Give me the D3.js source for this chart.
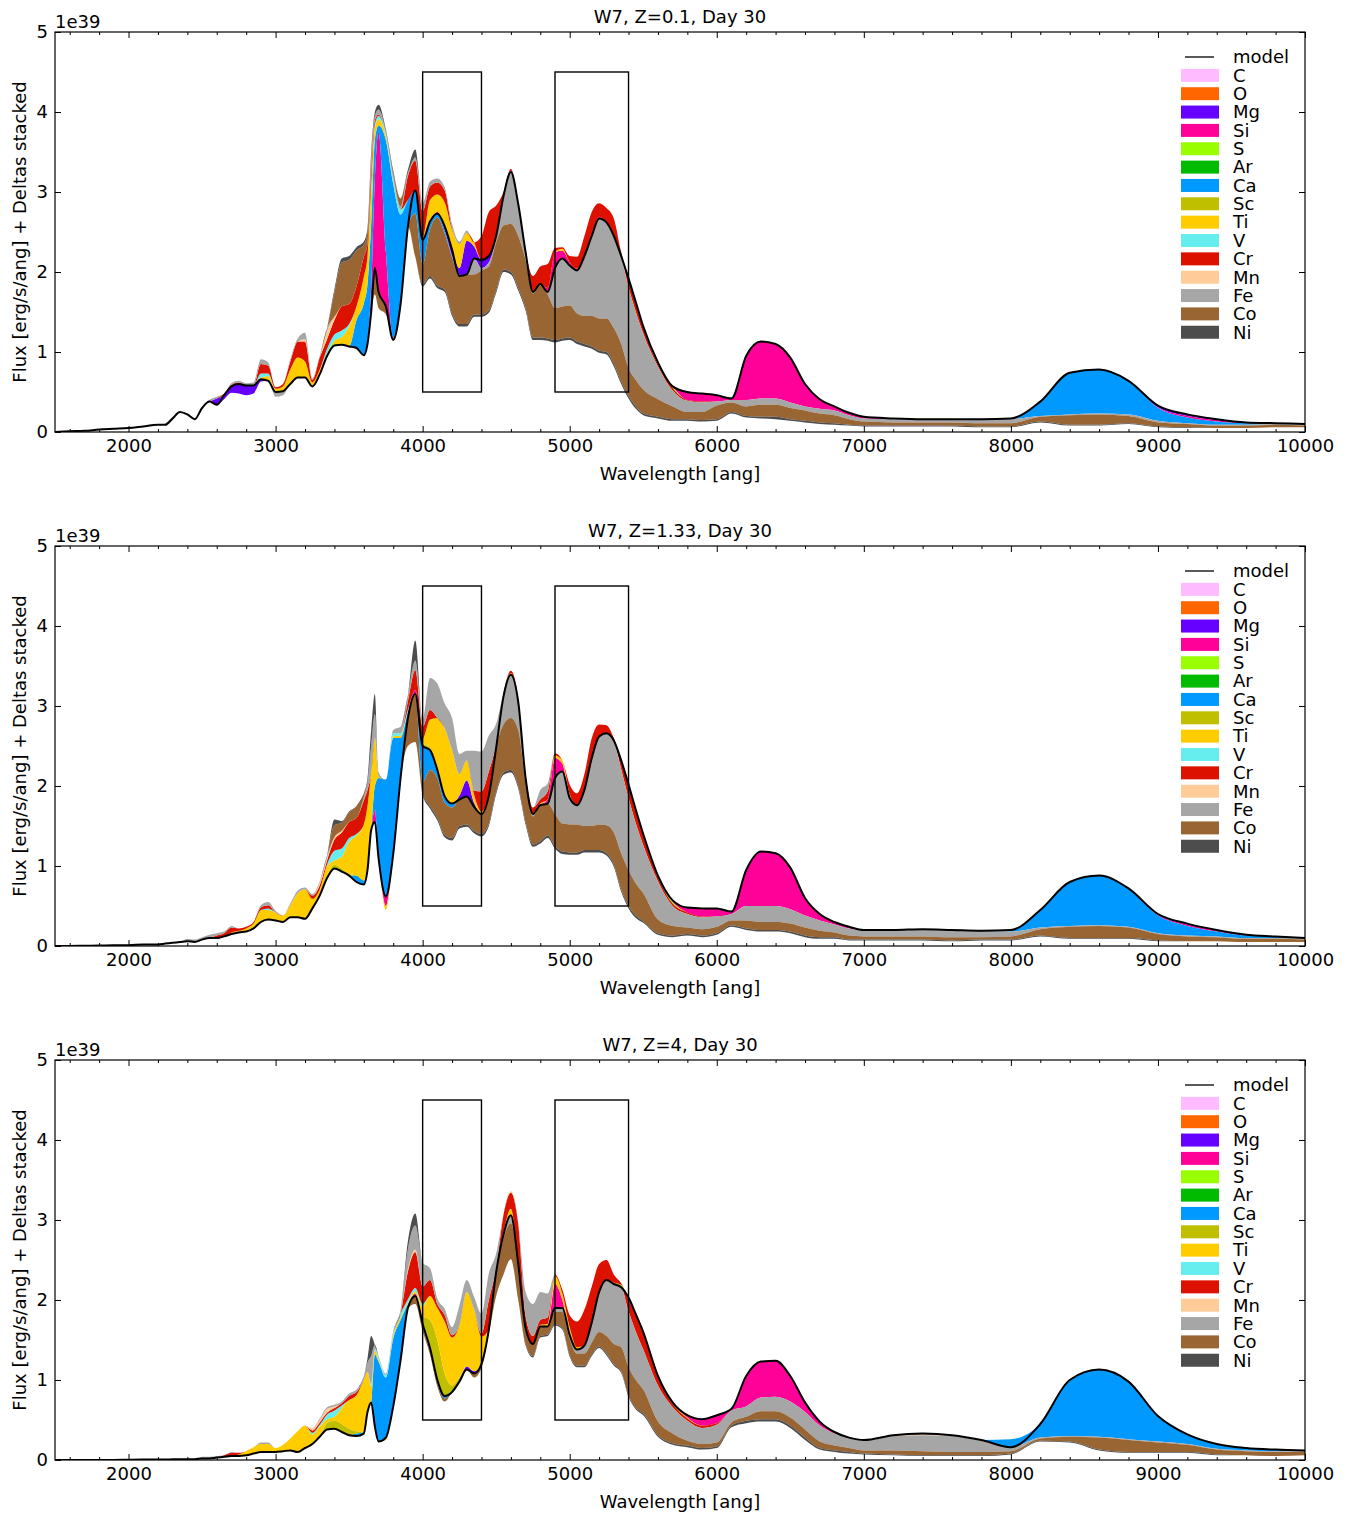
<!DOCTYPE html>
<html><head><meta charset="utf-8">
<script src="https://cdn.jsdelivr.net/npm/d3@7"></script>
<style>body{margin:0;background:#fff} svg{display:block} text{font-family:"DejaVu Sans",sans-serif;fill:#000}</style>
</head><body><svg id="chart" width="1354" height="1518"></svg>
<script>
// ---------- categories ----------
const elements = ["C","O","Mg","Si","S","Ar","Ca","Sc","Ti","V","Cr","Mn","Fe","Co","Ni"];
const elementColors = ["#ffbbff","#ff6600","#6600ff","#ff0099","#99ff00","#00bb00","#0099ff","#bfbf00","#ffcc00","#66eeee","#dd1100","#ffcc99","#a6a6a6","#996633","#4d4d4d"];
const titles = ["W7, Z=0.1, Day 30","W7, Z=1.33, Day 30","W7, Z=4, Day 30"];
const xTickLabels = [2000,3000,4000,5000,6000,7000,8000,9000,10000];
const yTickLabels = [0,1,2,3,4,5];
const boxes = [[4000,4400],[4900,5400]];
const boxFlux = [0.5,4.5];

// ---------- wavelength grid [ang] ----------
const wavelengths = [1500,1600,1700,1800,1900,2000,2100,2200,2250,2300,2350,2400,2450,2500,2550,2600,2650,2700,2750,2800,2850,2900,2950,3000,3050,3100,3150,3200,3250,3300,3350,3400,3450,3500,3550,3600,3625,3650,3675,3700,3750,3800,3850,3900,3950,4000,4050,4100,4150,4200,4250,4300,4350,4400,4450,4500,4550,4600,4650,4700,4750,4800,4850,4900,4950,5000,5050,5100,5150,5200,5250,5300,5350,5400,5450,5500,5600,5700,5800,5900,6000,6100,6200,6300,6400,6500,6600,6700,6800,6900,7000,7200,7400,7600,7800,8000,8200,8400,8600,8800,9000,9200,9400,9600,9800,10000];

// ---------- panel 1 (Z=0.1) : model flux and element deltas (1e39 erg/s/ang) ----------
const P1_model = {1500:0,1600:.01,1700:.015,1800:.03,1900:.04,2000:.05,2100:.07,2200:.09,2250:.09,2300:.17,2350:.25,2400:.22,2450:.16,2500:.3,2550:.38,2600:.34,2650:.46,2700:.57,2750:.6,2800:.58,2850:.58,2900:.66,2950:.64,3000:.5,3050:.51,3100:.6,3150:.68,3200:.68,3250:.57,3300:.72,3350:.95,3400:1.08,3450:1.09,3500:1.07,3550:1.05,3600:.96,3625:1.1,3650:1.5,3675:2.05,3700:1.75,3750:1.57,3800:1.15,3850:1.6,3900:2.57,3950:3.02,4000:2.4,4050:2.63,4100:2.73,4150:2.57,4200:2.28,4250:1.95,4300:1.97,4350:2.17,4400:2.15,4450:2.2,4500:2.45,4550:2.95,4600:3.25,4650:2.85,4700:2.25,4750:1.75,4800:1.85,4850:1.75,4900:2.05,4950:2.17,5000:2.08,5050:2.02,5100:2.2,5150:2.45,5200:2.67,5250:2.62,5300:2.45,5350:2.2,5400:1.92,5450:1.62,5500:1.32,5600:.87,5700:.57,5800:.5,5900:.48,6000:.46,6100:.42,6200:.95,6300:1.13,6400:1.1,6500:.93,6600:.6,6700:.41,6800:.32,6900:.24,7000:.19,7200:.17,7400:.16,7600:.16,7800:.16,8000:.17,8200:.38,8400:.74,8600:.78,8800:.64,9000:.33,9200:.22,9400:.16,9600:.12,9800:.11,10000:.1};
const P1_C = {};
const P1_O = {};
const P1_Mg = {2600:.08,2650:-.05,2700:-.08,2750:-.12,2800:-.12,2850:-.1,2900:-.03,3675:-.03,4150:-.05,4200:-.08,4250:.1,4300:.42,4350:.15,4400:-.1,4450:-.08,4500:-.03,4600:.02,7800:-.01,8000:-.01,9000:-.02,9200:-.02,9400:-.01};
const P1_Si = {3625:.05,3650:.3,3675:1.1,3700:2.0,3750:.68,3800:.03,4000:.03,4050:.02,4100:.02,4850:.05,4900:.2,4950:.1,5000:.04,5050:.02,5200:.02,5800:-.1,5900:-.1,6000:-.08,6100:-.02,6200:-.55,6300:-.71,6400:-.68,6500:-.56,6600:-.28,6700:-.12,6800:-.05,6900:-.03,7000:-.02,7200:-.01,9000:-.01,9200:-.02,9400:-.02,9600:-.01};
const P1_S = {5400:-.01,5450:-.02,5500:-.02,5600:-.02,5700:-.02};
const P1_Ar = {};
const P1_Ca = {3550:.35,3600:.65,3625:.7,3650:.8,3675:.5,3700:.08,3750:1.4,3800:1.92,3850:1.12,3900:.33,3950:-.29,4000:-.3,4050:-.1,4100:-.05,4150:-.04,4200:-.02,8200:-.18,8400:-.52,8600:-.55,8800:-.42,9000:-.16,9200:-.07,9400:-.04,9600:-.02,9800:-.01,10000:-.01};
const P1_Sc = {3400:.02};
const P1_Ti = {2900:.02,2950:.06,3000:.04,3050:.06,3100:.18,3150:.25,3200:.2,3250:.05,3300:.06,3350:.03,3400:.04,3450:.1,3500:.25,3550:.17,3600:.33,3625:.35,3650:.4,3675:.15,3700:.08,3750:.05,4050:.25,4100:.22,4150:.3,4200:.25,4250:.3,4300:.1,4350:.05,4950:.02};
const P1_V = {2900:.05,2950:.03,3350:.06,3400:.08,3450:.08,3500:.03,3650:.1,3675:.05,3700:.04,3750:.03,3800:.06,3850:.06};
const P1_Cr = {2650:.02,2700:.02,2750:.02,2900:.12,2950:.1,3000:.02,3050:.03,3100:.1,3150:.2,3200:.25,3250:.03,3300:.15,3350:.12,3400:.18,3450:.3,3500:.25,3550:.25,3600:.25,3625:.15,3650:.15,3675:.05,3700:.02,3900:.3,3950:.37,4000:.33,4050:.17,4100:.15,4150:.15,4200:.02,4400:.3,4450:.55,4500:.38,4550:.05,4600:.02,4750:.2,4800:.22,4850:.3,4900:.05,4950:.02,5000:.08,5050:.15,5100:.25,5150:.3,5200:.17,5250:.18,5300:.22,5350:.05,5400:-.1,5450:-.1,5500:-.07,5600:-.03,5700:-.03,5800:-.01,5900:-.01};
const P1_Mn = {3200:.03,3350:.1,3400:.04};
const P1_Fe = {2250:.02,2300:.02,2550:.02,2600:.02,2700:.02,2750:.02,2800:.03,2850:.04,2900:.06,2950:.04,3000:-.06,3050:-.05,3100:.03,3150:.04,3200:.08,3250:.02,3300:.02,3350:.04,3650:.1,3675:.05,3700:.06,3750:.03,3800:.05,3850:.04,3900:.04,3950:.04,4000:.1,4050:.06,4100:.05,4150:.04,4200:.05,4250:.03,4300:.03,4350:-.2,4400:-.03,4450:-.05,4500:-.05,4550:-.37,4600:-.65,4650:-.4,4700:-.1,4750:-.02,4800:-.02,4850:-.03,4900:-.5,4950:-.6,5000:-.5,5050:-.54,5100:-.75,5150:-1.0,5200:-1.25,5250:-1.2,5300:-1.15,5350:-1.1,5400:-1.01,5450:-.85,5500:-.7,5600:-.41,5700:-.2,5800:-.14,5900:-.12,6000:-.05,6100:-.03,6200:-.08,6300:-.08,6400:-.08,6500:-.07,6600:-.05,6700:-.06,6800:-.06,6900:-.05,7000:-.04,7200:-.04,7400:-.04,7600:-.04,7800:-.04,8000:-.05,8200:-.01,8400:-.01,8600:-.01,8800:-.02,9000:-.02,9200:-.01,9400:-.01,9600:-.01,9800:-.01,10000:-.01};
const P1_Co = {3400:.3,3450:.55,3500:.55,3550:.45,3600:.15,3625:.15,3650:.1,3675:-.3,3700:-.2,3750:-.1,3800:.03,3850:.1,3950:-.54,4000:-.25,4050:-.58,4100:-.85,4150:-.7,4200:-.7,4250:-.6,4300:-.62,4350:-.5,4400:-.55,4450:-.55,4500:-.6,4550:-.55,4600:-.6,4650:-.65,4700:-.6,4750:-.55,4800:-.65,4850:-.55,4900:-.4,4950:-.4,5000:-.4,5050:-.35,5100:-.35,5150:-.38,5200:-.4,5250:-.42,5300:-.45,5350:-.47,5400:-.35,5450:-.33,5500:-.3,5600:-.22,5700:-.16,5800:-.09,5900:-.1,6000:-.17,6100:-.12,6200:-.12,6300:-.15,6400:-.15,6500:-.14,6600:-.13,6700:-.11,6800:-.1,6900:-.07,7000:-.05,7200:-.04,7400:-.04,7600:-.04,7800:-.04,8000:-.04,8200:-.06,8400:-.12,8600:-.13,8800:-.09,9000:-.05,9200:-.04,9400:-.03,9600:-.03,9800:-.03,10000:-.02};
const P1_Ni = {3400:.04,3450:.05,3500:.05,3550:.04,3600:.04,3625:.05,3650:.05,3675:.05,3700:.06,3750:.02,3800:.03,3900:.04,3950:.1,4000:-.03,4050:-.03,4100:-.03,4150:-.03,4200:-.03,4250:-.03,4300:-.03,4350:-.03,4400:-.03,4450:-.03,4500:-.03,4550:-.03,4600:-.03,4650:-.03,4700:-.03,4750:-.03,4800:-.03,4850:-.03,4900:-.03,4950:-.03,5000:-.03,5050:-.03,5100:-.03,5150:-.03,5200:-.03,5250:-.03,5300:-.03,5350:-.03,5400:-.03,5450:-.03,5500:-.02,5600:-.02,5700:-.02,5800:-.02,5900:-.02,6000:-.02,6100:-.02,6200:-.02,6300:-.02,6400:-.03,6500:-.02,6600:-.02,6700:-.02,6800:-.02,6900:-.01,7000:-.01,7200:-.01,7400:-.01,7600:-.01,7800:-.01,8000:-.01,8200:-.01,8400:-.01,8600:-.01,8800:-.01,9000:-.01,9200:-.01};

// ---------- panel 2 (Z=1.33) ----------
const P2_model = {1500:0,1600:0,1700:.003,1800:.005,1900:.01,2000:.01,2100:.02,2200:.02,2250:.03,2300:.04,2350:.05,2400:.06,2450:.05,2500:.08,2550:.1,2600:.1,2650:.12,2700:.15,2750:.17,2800:.18,2850:.22,2900:.3,2950:.33,3000:.32,3050:.3,3100:.36,3150:.36,3200:.34,3250:.47,3300:.63,3350:.85,3400:.97,3450:.93,3500:.88,3550:.8,3600:.77,3625:.95,3650:1.45,3675:1.55,3700:1.1,3750:.62,3800:1.15,3850:2.1,3900:2.85,3950:3.15,4000:2.5,4050:2.45,4100:2.2,4150:1.87,4200:1.78,4250:1.83,4300:1.87,4350:1.74,4400:1.65,4450:1.88,4500:2.48,4550:3.12,4600:3.39,4650:3.05,4700:2.1,4750:1.65,4800:1.76,4850:1.78,4900:2.1,4950:2.18,5000:1.85,5050:1.76,5100:1.95,5150:2.35,5200:2.62,5250:2.66,5300:2.57,5350:2.32,5400:2.02,5450:1.7,5500:1.4,5600:.88,5700:.57,5800:.48,5900:.47,6000:.47,6100:.43,6200:.95,6300:1.18,6400:1.16,6500:.98,6600:.6,6700:.4,6800:.3,6900:.24,7000:.2,7200:.2,7400:.21,7600:.2,7800:.19,8000:.2,8200:.45,8400:.8,8600:.88,8800:.72,9000:.4,9200:.28,9400:.2,9600:.14,9800:.12,10000:.1};
const P2_C = {};
const P2_O = {};
const P2_Mg = {4250:.05,4300:.2,4350:.05,9000:-.01,9200:-.01};
const P2_Si = {3675:.15,3700:.05,3750:-.12,3900:.03,3950:.05,4850:.05,4900:.25,4950:.1,5000:.02,5700:-.02,5800:-.06,5900:-.1,6000:-.1,6100:-.03,6200:-.45,6300:-.68,6400:-.66,6500:-.52,6600:-.22,6700:-.08,6800:-.03,6900:-.02,9000:-.01,9200:-.02,9400:-.02,9600:-.01};
const P2_S = {5350:-.01,5400:-.02,5450:-.02,5500:-.02,5600:-.02,5700:-.02};
const P2_Ar = {};
const P2_Ca = {3550:.08,3600:.05,3675:.3,3700:.95,3750:1.46,3800:1.45,3850:.5,3900:.05,4000:-.45,4050:-.25,4100:-.1,4150:-.08,4200:-.05,8000:-.02,8200:-.22,8400:-.55,8600:-.62,8800:-.48,9000:-.22,9200:-.12,9400:-.06,9600:-.03,9800:-.02,10000:-.01};
const P2_Sc = {3350:.03,3400:.05,3450:.04,3500:.02,4000:.04,4050:.03};
const P2_Ti = {2700:.02,2750:.02,2800:.04,2850:.06,2900:.15,2950:.12,3000:.1,3050:.08,3100:.15,3150:.3,3200:.37,3250:.12,3300:.08,3350:.12,3400:.05,3450:.15,3500:.4,3550:.5,3600:.7,3625:.8,3650:.7,3675:.6,3700:.02,3750:-.05,3800:.02,3850:.03,4000:.05,4050:.35,4100:.65,4150:.85,4200:.67,4250:.27,4300:.25,4350:.1,4400:.03,4550:.01,4600:.02,4800:.02,4900:.03,4950:.04,5000:.03};
const P2_V = {2950:.02,3350:.02,3400:.12,3450:.1,3500:.05,3550:.02,3800:.04,3850:.03,3900:.03};
const P2_Cr = {2600:.03,2650:.04,2700:.06,2750:.03,2800:.02,2850:.02,2900:.03,2950:.04,3250:.04,3300:.05,3350:.05,3400:.14,3450:.2,3500:.2,3550:.2,3600:.3,3625:.2,3900:.1,3950:.25,4000:.15,4050:.12,4350:.05,4400:.25,4450:.3,4500:.05,4550:.03,4600:.03,4650:.05,4700:.05,4750:.08,4800:.05,4850:.1,4900:.03,5000:.12,5050:.15,5100:.2,5150:.25,5200:.15,5250:.1,5300:.03,5350:-.1,5400:-.15,5450:-.15,5500:-.12,5600:-.05,5700:-.03,5800:-.02,5900:-.01};
const P2_Mn = {3300:.03,3350:.03,3400:.03,3450:.02};
const P2_Fe = {2400:.03,2450:.03,2500:.03,2550:.04,2600:.03,2650:.02,2700:.02,2900:.03,2950:.04,3000:.02,3100:.02,3150:.03,3200:.02,3250:.02,3300:.02,3350:.03,3600:.04,3625:.1,3650:.35,3675:.3,3700:.05,3800:.04,3850:.08,3900:.08,3950:.12,4000:.1,4050:.4,4100:.43,4150:.31,4200:.4,4250:.25,4300:.12,4350:.5,4400:.5,4450:.45,4500:.25,4550:-.35,4600:-.54,4650:-.35,4700:-.05,4750:-.03,4800:.12,4850:.1,4900:-.45,4950:-.65,5000:-.33,5050:-.24,5100:-.45,5150:-.85,5200:-1.1,5250:-1.15,5300:-1.15,5350:-1.05,5400:-.9,5450:-.75,5500:-.6,5600:-.48,5700:-.25,5800:-.17,5900:-.15,6000:-.13,6100:-.08,6200:-.18,6300:-.2,6400:-.2,6500:-.18,6600:-.15,6700:-.13,6800:-.1,6900:-.09,7000:-.08,7200:-.08,7400:-.09,7600:-.09,7800:-.08,8000:-.06,8200:-.02,8400:-.01,8600:-.01,8800:-.01,9000:-.01,9200:-.01,9400:-.01,9600:-.01,9800:-.01,10000:-.01};
const P2_Co = {3400:.15,3450:.1,3500:.12,3550:.15,3600:.05,3900:-.35,3950:-.6,4000:-.15,4050:-.45,4100:-.5,4150:-.4,4200:-.38,4250:-.33,4300:-.35,4350:-.3,4400:-.25,4450:-.35,4500:-.55,4550:-.6,4600:-.65,4650:-.7,4700:-.5,4750:-.35,4800:-.45,4850:-.4,4900:-.4,4950:-.35,5000:-.35,5050:-.35,5100:-.3,5150:-.3,5200:-.32,5250:-.35,5300:-.4,5350:-.45,5400:-.45,5450:-.4,5500:-.35,5600:-.17,5700:-.12,5800:-.08,5900:-.08,6000:-.08,6100:-.06,6200:-.1,6300:-.1,6400:-.1,6500:-.1,6600:-.1,6700:-.08,6800:-.06,6900:-.05,7000:-.04,7200:-.04,7400:-.04,7600:-.04,7800:-.03,8000:-.04,8200:-.08,8400:-.14,8600:-.15,8800:-.13,9000:-.08,9200:-.06,9400:-.05,9600:-.04,9800:-.04,10000:-.03};
const P2_Ni = {3400:.07,3450:.02,3500:.01,3625:.05,3650:.2,3675:.25,3950:.25,4000:-.02,4050:-.03,4100:-.03,4150:-.03,4200:-.03,4250:-.03,4300:-.03,4350:-.03,4400:-.03,4450:-.03,4500:-.03,4550:-.03,4600:-.03,4650:-.03,4700:-.03,4750:-.03,4800:-.03,4850:-.03,4900:-.03,4950:-.03,5000:-.03,5050:-.03,5100:-.03,5150:-.03,5200:-.03,5250:-.03,5300:-.03,5350:-.03,5400:-.03,5450:-.03,5500:-.02,5600:-.02,5700:-.02,5800:-.02,5900:-.02,6000:-.02,6100:-.02,6200:-.02,6300:-.02,6400:-.02,6500:-.02,6600:-.02,6700:-.02,6800:-.02,6900:-.01,7000:-.01,7200:-.01,7400:-.01,7600:-.01,7800:-.01,8000:-.01,8200:-.01,8400:-.01,8600:-.01,8800:-.01,9000:-.01};

// ---------- panel 3 (Z=4) ----------
const P3_model = {1500:0,1600:0,1700:0,1800:0,1900:0,2000:.003,2100:.005,2200:.005,2250:.005,2300:.008,2350:.01,2400:.01,2450:.01,2500:.02,2550:.02,2600:.03,2650:.04,2700:.05,2750:.05,2800:.06,2850:.08,2900:.1,2950:.1,3000:.1,3050:.11,3100:.12,3150:.1,3200:.15,3250:.2,3300:.29,3350:.38,3400:.39,3450:.35,3500:.31,3550:.3,3600:.33,3625:.6,3650:.72,3675:.42,3700:.23,3750:.28,3800:.67,3850:1.25,3900:1.9,3950:2.05,4000:1.7,4050:1.4,4100:1.0,4150:.8,4200:.85,4250:.98,4300:1.13,4350:1.08,4400:1.2,4450:1.63,4500:2.35,4550:2.82,4600:3.06,4650:2.45,4700:1.65,4750:1.45,4800:1.67,4850:1.67,4900:1.9,4950:1.9,5000:1.56,5050:1.38,5100:1.43,5150:1.72,5200:2.1,5250:2.25,5300:2.2,5350:2.16,5400:2.03,5450:1.82,5500:1.6,5600:1.05,5700:.72,5800:.56,5900:.51,6000:.56,6100:.64,6200:1.05,6300:1.23,6400:1.24,6500:1.05,6600:.72,6700:.48,6800:.35,6900:.28,7000:.25,7200:.31,7400:.33,7600:.31,7800:.25,8000:.16,8200:.45,8400:1.0,8600:1.13,8800:.98,9000:.55,9200:.32,9400:.2,9600:.15,9800:.13,10000:.12};
const P3_C = {};
const P3_O = {};
const P3_Mg = {4250:.02,4300:.04,4350:.03};
const P3_Si = {3950:.03,4000:.02,4900:.3,4950:.1,5000:.02,5800:-.03,5900:-.08,6000:-.1,6100:-.02,6200:-.38,6300:-.45,6400:-.45,6500:-.32,6600:-.12,6700:-.05,6800:-.02};
const P3_S = {};
const P3_Ar = {};
const P3_Ca = {3550:.03,3600:.02,3675:.9,3700:1.0,3750:.75,3800:.85,3850:.5,3900:.05,4000:-.04,4050:-.04,4100:-.04,4150:-.03,8000:.1,8200:-.17,8400:-.7,8600:-.84,8800:-.72,9000:-.32,9200:-.12,9400:-.06,9600:-.03,9800:-.02,10000:-.01};
const P3_Sc = {3350:.08,3400:.1,3450:.1,3500:.08,3550:.03,4000:.08,4050:.35,4100:.5,4150:.28,4200:.08,4250:.03,5300:.02,5350:.03,5400:-.02,5450:-.02,5500:-.02,5600:-.02,5700:-.02,5800:-.01};
const P3_Ti = {2750:.02,2800:.05,2850:.08,2900:.1,2950:.1,3000:.05,3050:.08,3100:.15,3150:.26,3200:.28,3250:.12,3300:.13,3350:.05,3400:.05,3450:.2,3500:.36,3550:.45,3600:.65,3625:.5,3650:.2,3675:.05,3700:.03,3750:-.03,3800:.03,3850:.03,3900:.02,3950:.03,4000:.12,4050:.3,4100:.4,4150:.65,4200:.6,4250:.65,4300:.93,4350:.77,4400:.34,4550:.03,4600:.08,4800:.02,4850:.03,4900:.1,4950:.08,5000:.08,5050:.03};
const P3_V = {3250:.02,3300:.02,3350:.06,3400:.08,3450:.03,3650:.03,3675:.02,3700:.02,3750:.03,3800:.03,3850:.05,3900:.04,3950:.04,4000:.03};
const P3_Cr = {2650:.02,2700:.04,2750:.02,3250:.03,3300:.03,3350:.02,3400:.03,3450:.03,3500:.05,3550:.04,3900:.35,3950:.45,4000:.22,4050:.2,4100:.05,4150:.08,4200:.03,4400:.04,4450:.37,4500:.05,4550:.22,4600:.2,4650:.5,4700:.15,4750:.1,4800:.06,4850:.08,4900:.02,4950:.05,5000:.15,5050:.32,5100:.45,5150:.45,5200:.35,5250:.25,5300:.1,5350:.02,5400:-.15,5450:-.2,5500:-.2,5600:-.1,5700:-.04,5800:-.03,5900:-.03,6000:-.02,7400:-.01};
const P3_Mn = {3250:.03,3300:.03,3350:.05,3400:.02,3900:.03,3950:.03,4600:.02,7000:-.01,7200:-.01,7400:-.01,7600:-.01};
const P3_Fe = {2500:.02,2550:.02,2600:.02,2700:.01,2900:.02,2950:.02,3300:.02,3350:.02,3400:.02,3450:.02,3500:.03,3550:.03,3600:.05,3625:.12,3650:.35,3675:.05,3700:.02,3750:.02,3800:.03,3850:.05,3900:.25,3950:.3,4000:.3,4050:.15,4100:.07,4150:.08,4200:.1,4250:.25,4300:.15,4350:.16,4400:.25,4450:.33,4500:.18,4550:-.05,4600:-.1,4700:.3,4750:.4,4800:.35,4850:.3,4900:-.05,4950:-.05,5000:-.05,5050:-.05,5100:-.1,5150:-.25,5200:-.5,5250:-.7,5300:-.75,5350:-.75,5400:-.7,5450:-.6,5500:-.5,5600:-.45,5700:-.33,5800:-.25,5900:-.2,6000:-.22,6100:-.15,6200:-.13,6300:-.17,6400:-.18,6500:-.2,6600:-.22,6700:-.2,6800:-.15,6900:-.13,7000:-.12,7200:-.18,7400:-.2,7600:-.2,7800:-.15,8000:-.05,8200:-.01,8400:-.01,8600:-.01,8800:-.01,9000:-.01,9200:-.01,9400:-.01,9600:-.01,9800:-.01,10000:-.01};
const P3_Co = {3950:-.1,4000:-.05,4050:-.04,4100:-.04,4150:-.04,4350:-.05,4400:-.05,4450:-.05,4500:-.3,4550:-.45,4600:-.45,4650:-.45,4700:-.2,4750:-.15,4800:-.12,4850:-.1,4900:-.15,4950:-.2,5000:-.2,5050:-.15,5100:-.15,5150:-.15,5200:-.18,5250:-.22,5300:-.25,5350:-.3,5400:-.35,5450:-.35,5500:-.3,5600:-.17,5700:-.12,5800:-.06,5900:-.05,6000:-.05,6100:-.04,6200:-.05,6300:-.1,6400:-.1,6500:-.1,6600:-.1,6700:-.08,6800:-.06,6900:-.05,7000:-.04,7200:-.05,7400:-.05,7600:-.04,7800:-.04,8000:-.03,8200:-.03,8400:-.06,8600:-.15,8800:-.15,9000:-.12,9200:-.09,9400:-.06,9600:-.05,9800:-.05,10000:-.04};
const P3_Ni = {3625:.05,3650:.25,3900:.1,3950:.15,4700:-.02,4750:-.02,4800:-.02,4850:-.02,4900:-.02,4950:-.02,5000:-.02,5050:-.02,5100:-.02,5150:-.02,5200:-.02,5250:-.02,5300:-.02,5350:-.02,5400:-.02,5450:-.02,5500:-.02,5600:-.02,5700:-.02,5800:-.02,5900:-.02,6000:-.02,6100:-.02,6200:-.03,6300:-.03,6400:-.03,6500:-.03,6600:-.03,6700:-.02,6800:-.02,6900:-.02,7000:-.01,7200:-.01,7400:-.01,7600:-.01,7800:-.01,8000:-.01,8200:-.01,8400:-.01,8600:-.01,8800:-.01,9000:-.01,9200:-.01,9400:-.01};

// ---------- assemble ----------
const panels = [
  {title:titles[0], model:P1_model, deltas:{C:P1_C,O:P1_O,Mg:P1_Mg,Si:P1_Si,S:P1_S,Ar:P1_Ar,Ca:P1_Ca,Sc:P1_Sc,Ti:P1_Ti,V:P1_V,Cr:P1_Cr,Mn:P1_Mn,Fe:P1_Fe,Co:P1_Co,Ni:P1_Ni}},
  {title:titles[1], model:P2_model, deltas:{C:P2_C,O:P2_O,Mg:P2_Mg,Si:P2_Si,S:P2_S,Ar:P2_Ar,Ca:P2_Ca,Sc:P2_Sc,Ti:P2_Ti,V:P2_V,Cr:P2_Cr,Mn:P2_Mn,Fe:P2_Fe,Co:P2_Co,Ni:P2_Ni}},
  {title:titles[2], model:P3_model, deltas:{C:P3_C,O:P3_O,Mg:P3_Mg,Si:P3_Si,S:P3_S,Ar:P3_Ar,Ca:P3_Ca,Sc:P3_Sc,Ti:P3_Ti,V:P3_V,Cr:P3_Cr,Mn:P3_Mn,Fe:P3_Fe,Co:P3_Co,Ni:P3_Ni}}
];

const svg = d3.select("#chart");
const FS = 18;
const left = 55, right = 1305, plotH = 400;
const panelTops = [32, 546, 1060];
const x = d3.scaleLinear().domain([1500,10000]).range([left,right]);
const color = d3.scaleOrdinal().domain(elements).range(elementColors);
const minorX = d3.range(1600,10000,200).filter(v => v % 1000 !== 0);

panels.forEach((p, pi) => {
  const top = panelTops[pi], bottom = top + plotH;
  const y = d3.scaleLinear().domain([0,5]).range([bottom, top]);
  const model = wavelengths.map(w => p.model[w]);
  const rows = wavelengths.map(w => {
    const r = {w};
    elements.forEach(e => r[e] = p.deltas[e][w] || 0);
    return r;
  });
  // positive deltas stack upward from the model, negative deltas stack downward
  const posStack = d3.stack().keys(elements).value((d,k) => Math.max(0, d[k]))(rows);
  const negStack = d3.stack().keys(elements).value((d,k) => Math.min(0, d[k]))(rows);

  const clipId = "clip" + pi;
  svg.append("clipPath").attr("id", clipId).append("rect")
    .attr("x", left).attr("y", top).attr("width", right-left).attr("height", plotH);
  const g = svg.append("g").attr("clip-path", `url(#${clipId})`);

  const area = d3.area()
    .x((d,i) => x(wavelengths[i]))
    .y0((d,i) => y(model[i] + d[0]))
    .y1((d,i) => y(model[i] + d[1]))
    .curve(d3.curveMonotoneX);

  elements.forEach((e, ei) => {
    g.append("path").datum(posStack[ei]).attr("d", area).attr("fill", color(e));
    g.append("path").datum(negStack[ei]).attr("d", area).attr("fill", color(e));
  });

  const line = d3.line().x((d,i) => x(wavelengths[i])).y(d => y(d)).curve(d3.curveMonotoneX);
  g.append("path").datum(model).attr("d", line).attr("fill","none").attr("stroke","#000").attr("stroke-width",2);

  boxes.forEach(b => {
    svg.append("rect").attr("x", x(b[0])).attr("y", y(boxFlux[1]))
      .attr("width", x(b[1]) - x(b[0])).attr("height", y(boxFlux[0]) - y(boxFlux[1]))
      .attr("fill","none").attr("stroke","#000").attr("stroke-width",1.4);
  });

  // axes
  const ax = svg.append("g");
  ax.append("g").attr("transform",`translate(0,${bottom})`)
    .call(d3.axisBottom(x).tickValues(xTickLabels).tickSize(-6).tickPadding(7).tickFormat(d3.format("d")));
  ax.append("g").attr("transform",`translate(0,${bottom})`)
    .call(d3.axisBottom(x).tickValues(minorX).tickSize(-3).tickFormat(""));
  ax.append("g").attr("transform",`translate(0,${top})`)
    .call(d3.axisTop(x).tickValues(xTickLabels).tickSize(-6).tickFormat(""));
  ax.append("g").attr("transform",`translate(0,${top})`)
    .call(d3.axisTop(x).tickValues(minorX).tickSize(-3).tickFormat(""));
  ax.append("g").attr("transform",`translate(${left},0)`)
    .call(d3.axisLeft(y).tickValues(yTickLabels).tickSize(-6).tickPadding(7).tickFormat(d3.format("d")));
  ax.append("g").attr("transform",`translate(${right},0)`)
    .call(d3.axisRight(y).tickValues(yTickLabels).tickSize(-6).tickFormat(""));
  ax.selectAll(".domain").remove();
  ax.selectAll("line").attr("stroke","#000").attr("stroke-width",1);
  ax.selectAll("text").attr("font-size",FS).attr("font-family","DejaVu Sans").attr("fill","#000");
  svg.append("rect").attr("x",left).attr("y",top).attr("width",right-left).attr("height",plotH)
    .attr("fill","none").attr("stroke","#000").attr("stroke-width",1.2);

  svg.append("text").attr("x",(left+right)/2).attr("y",top-9).attr("text-anchor","middle")
    .attr("font-size",FS).text(p.title);
  svg.append("text").attr("x",left).attr("y",top-4).attr("font-size",FS).text("1e39");
  svg.append("text").attr("x",(left+right)/2).attr("y",bottom+48).attr("text-anchor","middle")
    .attr("font-size",FS).text("Wavelength [ang]");
  svg.append("text").attr("transform",`translate(26,${top+plotH/2}) rotate(-90)`).attr("text-anchor","middle")
    .attr("font-size",FS).text("Flux [erg/s/ang] + Deltas stacked");

  // legend
  const lg = svg.append("g").attr("transform",`translate(1181,${top+25})`);
  const rowH = 18.35;
  lg.append("line").attr("x1",4).attr("x2",33).attr("y1",0).attr("y2",0).attr("stroke","#000").attr("stroke-width",1.3);
  lg.append("text").attr("x",52).attr("y",0).attr("dy","0.35em").attr("font-size",FS).text("model");
  elements.forEach((e, ei) => {
    const yy = (ei+1)*rowH;
    lg.append("rect").attr("x",0).attr("y",yy-6.5).attr("width",38).attr("height",13).attr("fill",color(e));
    lg.append("text").attr("x",52).attr("y",yy).attr("dy","0.35em").attr("font-size",FS).text(e);
  });
});
</script>
</body></html>
